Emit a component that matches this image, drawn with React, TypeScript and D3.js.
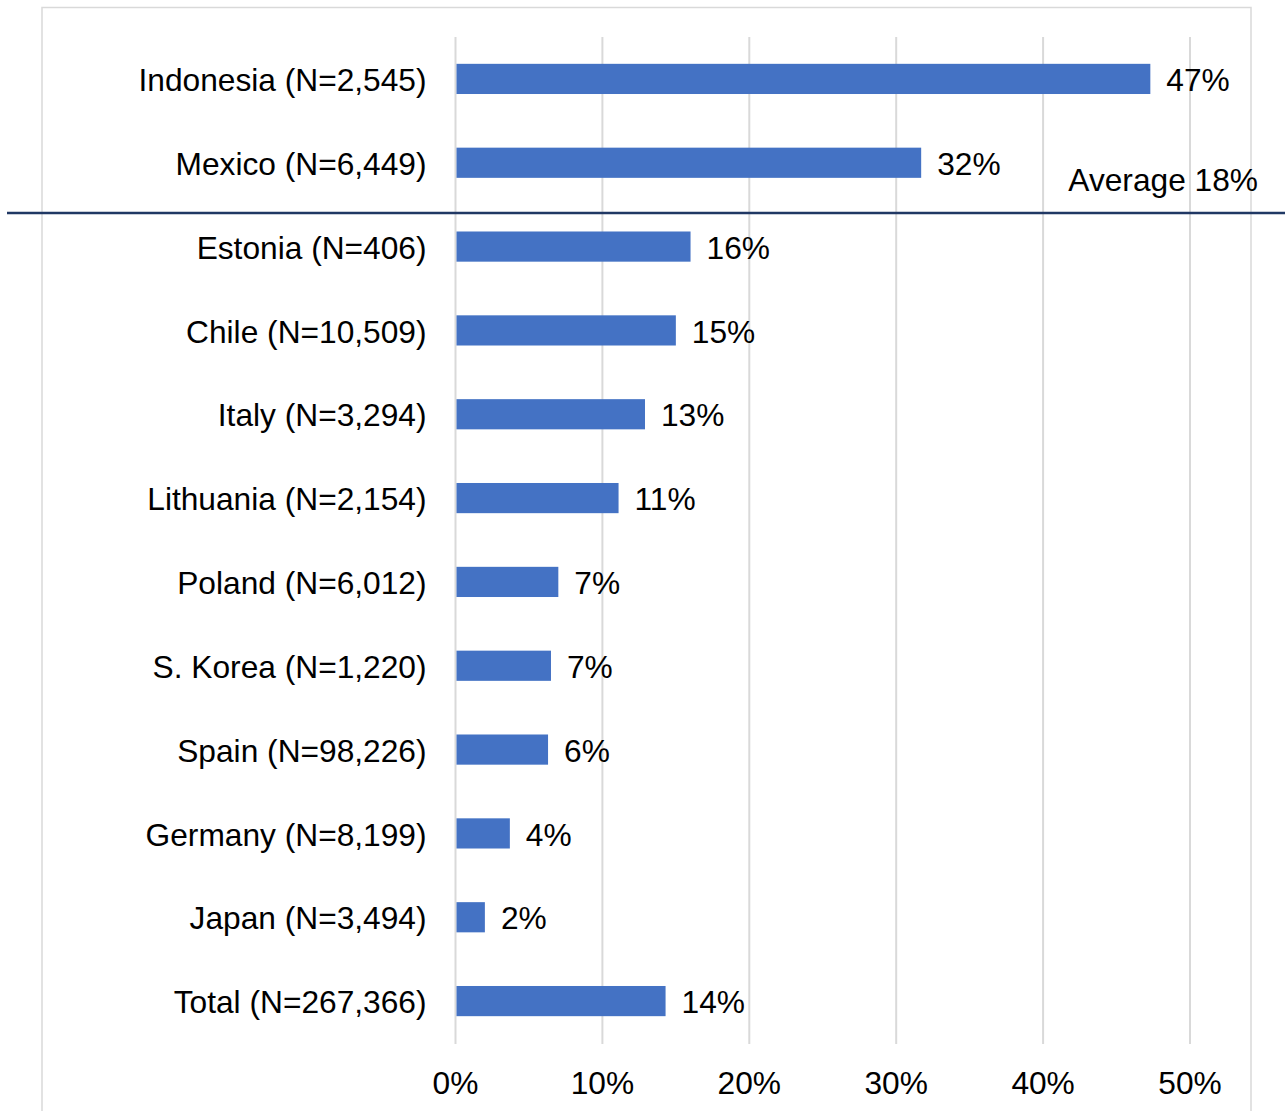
import React from 'react';
import * as d3 from 'd3';

const countries = [
  'Indonesia (N=2,545)',
  'Mexico (N=6,449)',
  'Estonia (N=406)',
  'Chile (N=10,509)',
  'Italy (N=3,294)',
  'Lithuania (N=2,154)',
  'Poland (N=6,012)',
  'S. Korea (N=1,220)',
  'Spain (N=98,226)',
  'Germany (N=8,199)',
  'Japan (N=3,494)',
  'Total (N=267,366)',
];
const shares = [0.473, 0.317, 0.16, 0.15, 0.129, 0.111, 0.07, 0.065, 0.063, 0.037, 0.02, 0.143];
const valueLabels = ['47%', '32%', '16%', '15%', '13%', '11%', '7%', '7%', '6%', '4%', '2%', '14%'];
const xTicks = [0, 0.1, 0.2, 0.3, 0.4, 0.5];
const averageLabel = 'Average 18%';

const W = 1285, H = 1111;
const FONT = '"Liberation Sans", Arial, sans-serif';
const FS = 31.7;

export default function App() {
  const margin = {left: 455.5, right: 95, top: 37, bottom: 68};

  const x = d3.scaleLinear()
    .domain([0, 0.5])
    .range([margin.left, W - margin.right]);

  const y = d3.scaleBand()
    .domain(countries)
    .range([margin.top, H - margin.bottom])
    .paddingInner(0.64)
    .paddingOuter(0.32);

  const step = y.step();
  // average line sits between Mexico and Estonia
  const avgY = (y('Mexico (N=6,449)') as number) + y.bandwidth() / 2 + step * 0.6;
  const fmt = d3.format('.0%');

  return (
    <svg width={W} height={H} style={{position: 'absolute', left: 0, top: 0, background: '#fff'}} fontFamily={FONT}>
      <rect x={42} y={7.5} width={1209} height={H + 20} fill="none" stroke="#d9d9d9" strokeWidth={1.5}/>
      <g className="grid">
        {xTicks.map(t => (
          <line key={t} x1={x(t)} x2={x(t)} y1={margin.top} y2={H - margin.bottom + 1} stroke="#d9d9d9" strokeWidth={2}/>
        ))}
      </g>
      <g className="bars">
        {countries.map((c, i) => (
          <rect key={c} x={x(0) + 1} y={y(c)} width={x(shares[i]) - x(0) - 1} height={y.bandwidth()} fill="#4472C4"/>
        ))}
      </g>
      <g className="value-labels" fontSize={FS} fill="#000">
        {countries.map((c, i) => (
          <text key={c} x={x(shares[i]) + 16} y={(y(c) as number) + y.bandwidth() / 2 + 1} dy="0.35em">{valueLabels[i]}</text>
        ))}
      </g>
      <g className="y-labels" fontSize={FS} fill="#000" textAnchor="end">
        {countries.map(c => (
          <text key={c} x={margin.left - 29} y={(y(c) as number) + y.bandwidth() / 2 + 1} dy="0.35em">{c}</text>
        ))}
      </g>
      <g className="x-labels" fontSize={FS} fill="#000" textAnchor="middle">
        {xTicks.map(t => (
          <text key={t} x={x(t)} y={H - margin.bottom + 40} dy="0.35em">{fmt(t)}</text>
        ))}
      </g>
      <line x1={7} x2={W} y1={avgY} y2={avgY} stroke="#203864" strokeWidth={2.5}/>
      <text x={1258} y={avgY - 22} fontSize={FS} textAnchor="end" fill="#000">{averageLabel}</text>
    </svg>
  );
}
